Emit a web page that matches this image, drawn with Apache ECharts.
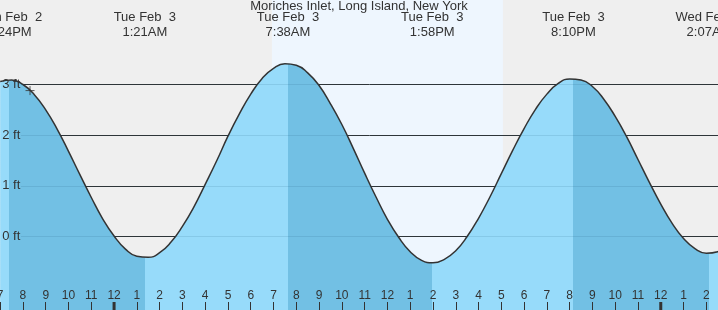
<!DOCTYPE html>
<html><head><meta charset="utf-8">
<script src="https://cdn.jsdelivr.net/npm/echarts@6/dist/echarts.min.js"></script>
<style>html,body{margin:0;padding:0;background:#efefef}#c{width:718px;height:310px}</style>
</head><body><div id="c"></div><script>
// ---- data (hours counted from Mon Feb 2 00:00), read every half hour ----
const title = 'Moriches Inlet, Long Island, New York';
const hours = [19,19.5,20,20.5,21,21.5,22,22.5,23,23.5,24,24.5,25,25.5,26,26.5,27,27.5,28,28.5,29,29.5,30,30.5,31,31.5,32,32.5,33,33.5,34,34.5,35,35.5,36,36.5,37,37.5,38,38.5,39,39.5,40,40.5,41,41.5,42,42.5,43,43.5,44,44.5,45,45.5,46,46.5,47,47.5,48,48.5,49,49.5,50,50.5,51];
const heights = [3.06,3.09,3.00,2.80,2.50,2.12,1.68,1.22,0.77,0.35,0.01,-0.25,-0.39,-0.41,-0.32,-0.11,0.20,0.58,1.03,1.49,1.98,2.42,2.81,3.12,3.32,3.41,3.38,3.23,2.98,2.62,2.21,1.74,1.25,0.78,0.34,-0.02,-0.30,-0.47,-0.52,-0.45,-0.28,0.00,0.36,0.78,1.24,1.70,2.13,2.51,2.81,3.02,3.11,3.09,2.96,2.71,2.37,1.97,1.52,1.07,0.64,0.26,-0.04,-0.24,-0.33,-0.30,-0.15];
const extremeTimes = [19.4, 25.35, 31.633, 37.967, 44.167, 50.117];
const extremeHeights = [3.09, -0.42, 3.41, -0.52, 3.12, -0.33];
const extremeTypes = ['H','L','H','L','H','L'];
const extremeDays = ['Mon Feb  2','Tue Feb  3','Tue Feb  3','Tue Feb  3','Tue Feb  3','Wed Feb  4'];
const extremeClocks = ['7:24PM','1:21AM','7:38AM','1:58PM','8:10PM','2:07AM'];
const daylight = [30.93, 41.07];   // sunrise, sunset
const midnights = [24, 48];
const yTicks = [0, 1, 2, 3];
const nowPoint = [20.31, 2.88];

// ---- styles / layout ----
const FONT = 'Liberation Sans';
const TEXT = '#333';
const LIGHT = '#97dbfa', DARK = '#72c0e4', DAY = '#eef6fe', BG = '#efefef';

const curve = hours.map((h, i) => [h, heights[i]]);

const pieces = [{lt: extremeTimes[0], color: extremeTypes[0] === 'H' ? LIGHT : DARK}];
extremeTimes.forEach((t, i) => {
  const c = extremeTypes[i] === 'H' ? DARK : LIGHT;
  if (i < extremeTimes.length - 1) pieces.push({gte: t, lt: extremeTimes[i + 1], color: c});
  else pieces.push({gte: t, color: c});
});

const chart = echarts.init(document.getElementById('c'), null, {renderer: 'canvas'});
chart.setOption({
  animation: false,
  backgroundColor: BG,
  title: {text: title, left: 'center', top: 0, padding: 0,
    textStyle: {fontSize: 13, fontWeight: 'normal', color: TEXT, fontFamily: FONT}},
  grid: [
    {left: 0.18, right: -11.1, top: -16.83, bottom: -27.83, containLabel: false, outerBoundsMode: 'none'},
    {left: 21, right: 0, top: 84.5, bottom: 73.5, containLabel: false, outerBoundsMode: 'none'}
  ],
  xAxis: [
    {gridIndex: 0, type: 'value', min: 19, max: 51, interval: 1, position: 'bottom', offset: -27.83, z: 5,
      axisLine: {show: false, onZero: false},
      axisTick: {inside: true, length: 8, lineStyle: {color: TEXT, width: 1}},
      axisLabel: {inside: true, margin: 8, color: TEXT, fontSize: 12, fontFamily: FONT,
        hideOverlap: false, showMinLabel: true, showMaxLabel: true,
        formatter: v => String((v % 12) || 12)},
      splitLine: {show: false}},
    {gridIndex: 1, type: 'value', min: 19, max: 51, show: false}
  ],
  yAxis: [
    {gridIndex: 0, type: 'value', min: -2, max: 5, interval: 1, z: 5,
      axisLine: {show: false, onZero: false}, axisTick: {show: false}, splitLine: {show: false},
      axisLabel: {inside: true, margin: 2, color: TEXT, fontSize: 13, fontFamily: FONT,
        formatter: v => yTicks.indexOf(v) >= 0 ? v + ' ft' : ''}},
    {gridIndex: 1, type: 'value', min: 0, max: 3, interval: 1, z: 1,
      axisLine: {show: false}, axisTick: {show: false}, axisLabel: {show: false},
      splitLine: {show: true, lineStyle: {color: TEXT, width: 1}}},
    {gridIndex: 1, type: 'value', min: 0, max: 3, interval: 1, z: 3,
      axisLine: {show: false}, axisTick: {show: false}, axisLabel: {show: false},
      splitLine: {show: true, lineStyle: {color: 'rgba(20,70,110,0.12)', width: 1}}}
  ],
  visualMap: {type: 'piecewise', show: false, dimension: 0, seriesIndex: 0, pieces: pieces},
  series: [
    {type: 'line', xAxisIndex: 0, yAxisIndex: 0, z: 2, data: curve, smooth: true, showSymbol: false,
      lineStyle: {color: TEXT, width: 1.5}, areaStyle: {opacity: 1, origin: 'start'}},
    {type: 'custom', xAxisIndex: 0, yAxisIndex: 0, z: 0, data: [daylight], encode: {x: [0, 1]},
      renderItem: (params, api) => {
        const x1 = api.coord([api.value(0), 0])[0];
        const x2 = api.coord([api.value(1), 0])[0];
        return {type: 'rect', shape: {x: x1, y: 0, width: x2 - x1, height: api.getHeight()}, style: {fill: DAY}};
      }},
    {type: 'custom', xAxisIndex: 0, yAxisIndex: 0, z: 6, data: midnights.map(m => [m, 0]),
      renderItem: (params, api) => {
        const x = api.coord([api.value(0), 0])[0];
        return {type: 'rect', shape: {x: x - 1.5, y: api.getHeight() - 8, width: 3, height: 8}, style: {fill: TEXT}};
      }},
    {type: 'custom', xAxisIndex: 0, yAxisIndex: 0, z: 6, data: extremeTimes.map((t, i) => [t, extremeHeights[i]]),
      renderItem: (params, api) => {
        const x = api.coord([api.value(0), 0])[0];
        const i = params.dataIndex;
        const st = {fill: TEXT, font: '13px "' + FONT + '"', align: 'center', verticalAlign: 'middle'};
        return {type: 'group', children: [
          {type: 'text', x: x, y: 17.7, style: Object.assign({text: extremeDays[i]}, st)},
          {type: 'text', x: x, y: 32.3, style: Object.assign({text: extremeClocks[i]}, st)}
        ]};
      }},
    {type: 'scatter', xAxisIndex: 0, yAxisIndex: 0, z: 6, data: [nowPoint],
      symbol: 'path://M0,5L10,5M5,0L5,10', symbolSize: 9,
      itemStyle: {color: 'rgba(0,0,0,0)', borderColor: TEXT, borderWidth: 1}}
  ]
});
</script></body></html>
